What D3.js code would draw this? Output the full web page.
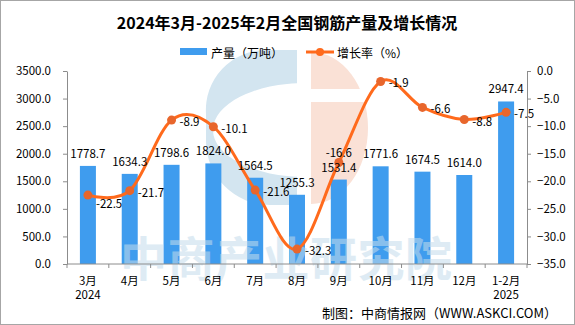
<!DOCTYPE html>
<html>
<head>
<meta charset="utf-8">
<script src="https://cdn.jsdelivr.net/npm/d3@7"></script>
<style>
  body { margin: 0; background: #fff; }
  svg text { font-family: "Noto Sans CJK SC", "Noto Sans", sans-serif; }
  .axis path, .axis line { stroke: #8c8c8c; }
  .axis text { font-size: 11.5px; fill: #000; }
</style>
</head>
<body>
<div id="chart"></div>
<script>
// 月份、年份和两组数据
const months = ['3月', '4月', '5月', '6月', '7月', '8月', '9月', '10月', '11月', '12月', '1-2月'];
const years = ['2024', '', '', '', '', '', '', '', '', '', '2025'];
const output = [1778.7, 1634.3, 1798.6, 1824.0, 1564.5, 1255.3, 1531.4, 1771.6, 1674.5, 1614.0, 2947.4];
const growth = [-22.5, -21.7, -8.9, -10.1, -21.6, -32.3, -16.6, -1.9, -6.6, -8.8, -7.5];
const leftTicks = [0, 500, 1000, 1500, 2000, 2500, 3000, 3500];
const rightTicks = [0, -5, -10, -15, -20, -25, -30, -35];

// 增长率标签放在点的哪一侧
const growthLabelSide = ['below', 'right', 'right', 'right', 'right', 'right', 'above', 'right', 'right', 'right', 'right'];

const width = 575, height = 325;
const margin = { left: 67, right: 48, top: 71, bottom: 61 };
const barColor = '#3f9cee', lineColor = '#ff6a1c', dotColor = '#e8662c';

const svg = d3.select('#chart').append('svg')
  .attr('width', width)
  .attr('height', height);

svg.append('rect')
  .attr('x', 0.5).attr('y', 0.5)
  .attr('width', width - 1).attr('height', height - 1)
  .attr('fill', '#fff')
  .attr('stroke', '#a6a6a6');

const x = d3.scaleBand()
  .domain(months)
  .range([margin.left, width - margin.right]);
const yL = d3.scaleLinear().domain([0, 3500]).range([height - margin.bottom, margin.top]);
const yR = d3.scaleLinear().domain([-35, 0]).range([height - margin.bottom, margin.top]);
const fmt = d3.format('.1f');

// 背景水印 logo
const defs = svg.append('defs');
defs.append('clipPath').attr('id', 'clipLeft')
  .append('rect').attr('x', 190).attr('y', 40).attr('width', 107).attr('height', 180);
const clipRight = defs.append('clipPath').attr('id', 'clipRight');
clipRight.append('rect').attr('x', 311).attr('y', 40).attr('width', 80).attr('height', 49);
clipRight.append('rect').attr('x', 311).attr('y', 102).attr('width', 80).attr('height', 110);

const logo = svg.append('g').attr('class', 'logo');
logo.append('path')
  .attr('clip-path', 'url(#clipLeft)')
  .attr('fill', '#d3e5f0')
  .attr('fill-rule', 'evenodd')
  .attr('d', 'M266,50 H330 A64,64 0 0 1 394,114 V141 A64,64 0 0 1 330,205 H270 A64,64 0 0 1 206,141 V114 A60,60 0 0 1 266,50 Z '
    + 'M213,130 A92,47 0 1 0 397,130 A92,47 0 1 0 213,130 Z');
logo.append('ellipse')
  .attr('clip-path', 'url(#clipRight)')
  .attr('cx', 311).attr('cy', 128)
  .attr('rx', 57).attr('ry', 76)
  .attr('fill', '#fae1d6');

// 标题和图例
svg.append('text')
  .attr('x', 287).attr('y', 22)
  .attr('text-anchor', 'middle')
  .attr('dominant-baseline', 'central')
  .style('font-size', '16px')
  .style('font-weight', 'bold')
  .text('2024年3月-2025年2月全国钢筋产量及增长情况');

const legend = svg.append('g').attr('class', 'legend');
legend.append('rect')
  .attr('x', 180).attr('y', 48).attr('width', 27).attr('height', 7)
  .attr('fill', barColor);
legend.append('text')
  .attr('x', 211).attr('y', 52)
  .attr('dominant-baseline', 'central')
  .style('font-size', '12px')
  .text('产量（万吨）');
legend.append('line')
  .attr('x1', 306).attr('x2', 334).attr('y1', 52).attr('y2', 52)
  .attr('stroke', lineColor).attr('stroke-width', 3);
legend.append('circle')
  .attr('cx', 320).attr('cy', 52).attr('r', 4)
  .attr('fill', lineColor);
legend.append('text')
  .attr('x', 337).attr('y', 52)
  .attr('dominant-baseline', 'central')
  .style('font-size', '12px')
  .text('增长率（%）');

// 柱子
const barW = 16;
svg.append('g').selectAll('rect')
  .data(output)
  .enter()
  .append('rect')
    .attr('x', function(d, i) { return x(months[i]) + x.bandwidth() / 2 - barW / 2; })
    .attr('y', function(d) { return yL(d); })
    .attr('width', barW)
    .attr('height', function(d) { return yL(0) - yL(d); })
    .attr('fill', barColor);

// 文字水印
svg.append('text')
  .attr('x', 120).attr('y', 276)
  .attr('fill', '#c4dcec')
  .attr('opacity', 0.55)
  .style('font-size', '47px')
  .style('font-weight', 'bold')
  .style('letter-spacing', '0.5px')
  .text('中商产业研究院');

// 坐标轴
const axisL = svg.append('g')
  .attr('class', 'axis')
  .attr('transform', 'translate(' + margin.left + ',0)')
  .call(d3.axisLeft(yL).tickValues(leftTicks).tickFormat(fmt).tickSize(4).tickSizeOuter(0).tickPadding(12));
const axisR = svg.append('g')
  .attr('class', 'axis')
  .attr('transform', 'translate(' + (width - margin.right) + ',0)')
  .call(d3.axisRight(yR).tickValues(rightTicks).tickFormat(fmt).tickSize(4).tickSizeOuter(0).tickPadding(6));

const xAxis = svg.append('g').attr('class', 'axis');
xAxis.append('line')
  .attr('x1', margin.left).attr('x2', width - margin.right)
  .attr('y1', yL(0)).attr('y2', yL(0));
xAxis.selectAll('.tickmark')
  .data(months.concat(['end']))
  .enter()
  .append('line')
    .attr('class', 'tickmark')
    .attr('x1', function(d) { return d === 'end' ? width - margin.right : x(d); })
    .attr('x2', function(d) { return d === 'end' ? width - margin.right : x(d); })
    .attr('y1', yL(0)).attr('y2', yL(0) + 4);
xAxis.selectAll('.month')
  .data(months)
  .enter()
  .append('text')
    .attr('class', 'month')
    .attr('x', function(d) { return x(d) + x.bandwidth() / 2; })
    .attr('y', 280)
    .attr('text-anchor', 'middle')
    .attr('dominant-baseline', 'central')
    .text(function(d) { return d; });
xAxis.selectAll('.year')
  .data(years)
  .enter()
  .append('text')
    .attr('class', 'year')
    .attr('x', function(d, i) { return x(months[i]) + x.bandwidth() / 2; })
    .attr('y', 294)
    .attr('text-anchor', 'middle')
    .attr('dominant-baseline', 'central')
    .text(function(d) { return d; });

// 折线（平滑）
const line = d3.line()
  .x(function(d, i) { return x(months[i]) + x.bandwidth() / 2; })
  .y(function(d) { return yR(d); })
  .curve(d3.curveCardinal.tension(0));

svg.append('path')
  .datum(growth)
  .attr('fill', 'none')
  .attr('stroke', lineColor)
  .attr('stroke-width', 3)
  .attr('d', line);

svg.append('g').selectAll('circle')
  .data(growth)
  .enter()
  .append('circle')
    .attr('cx', function(d, i) { return x(months[i]) + x.bandwidth() / 2; })
    .attr('cy', function(d) { return yR(d); })
    .attr('r', 4.5)
    .attr('fill', dotColor);

// 数据标签
svg.append('g').selectAll('text')
  .data(output)
  .enter()
  .append('text')
    .attr('x', function(d, i) { return x(months[i]) + x.bandwidth() / 2; })
    .attr('y', function(d) { return yL(d) - 13; })
    .attr('text-anchor', 'middle')
    .attr('dominant-baseline', 'central')
    .style('font-size', '11.5px')
    .text(function(d) { return fmt(d); });

svg.append('g').selectAll('text')
  .data(growth)
  .enter()
  .append('text')
    .attr('x', function(d, i) {
      const cx = x(months[i]) + x.bandwidth() / 2;
      return growthLabelSide[i] === 'above' ? cx : cx + 8;
    })
    .attr('y', function(d, i) {
      const side = growthLabelSide[i];
      if (side === 'above') return yR(d) - 11;
      if (side === 'below') return yR(d) + 8;
      return yR(d) + 1;
    })
    .attr('text-anchor', function(d, i) { return growthLabelSide[i] === 'above' ? 'middle' : 'start'; })
    .attr('dominant-baseline', 'central')
    .style('font-size', '11.5px')
    .text(function(d) { return d.toFixed(1); });

// 来源
svg.append('text')
  .attr('x', 557).attr('y', 312)
  .attr('text-anchor', 'end')
  .attr('dominant-baseline', 'central')
  .style('font-size', '13px')
  .text('制图：中商情报网（WWW.ASKCI.COM）');
</script>
</body>
</html>
